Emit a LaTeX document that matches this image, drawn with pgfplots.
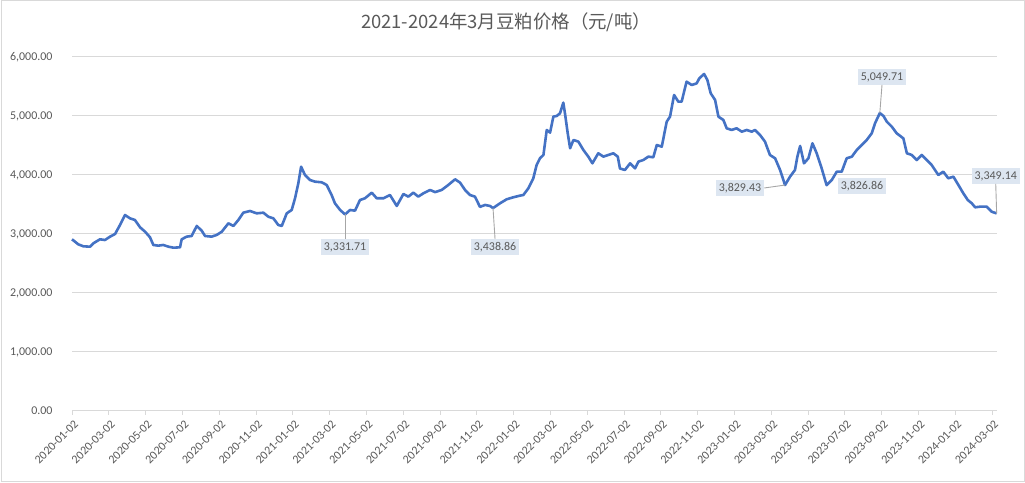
\documentclass[border=0pt]{standalone}
\usepackage{fontspec}
\setmainfont{Carlito}
\newfontfamily\cjk{Noto Sans CJK SC}
\usepackage{pgfplots}
\pgfplotsset{compat=1.18}
\definecolor{lineblue}{HTML}{4472C4}
\definecolor{gridgray}{HTML}{D9D9D9}
\definecolor{txtgray}{HTML}{595959}
\definecolor{boxfill}{HTML}{DDE6F1}
\definecolor{leadgray}{HTML}{A6A6A6}

\begin{document}
\begin{tikzpicture}[x=1bp,y=1bp,
    lab/.style={fill=boxfill, text=txtgray, font=\fontsize{12}{14}\selectfont, inner sep=3bp},
    lead/.style={draw=leadgray, line width=0.9bp}]
\path[use as bounding box] (0,0) rectangle (1025,483);
\draw[gridgray, line width=1bp] (1,1) rectangle (1024,482);
\node[font=\cjk\fontsize{18.5}{22}\selectfont, text=txtgray] at (506,461) {2021-2024年3月豆粕价格（元/吨）};
\begin{axis}[
    at={(72bp,72bp)}, anchor=south west,
    scale only axis, width=925bp, height=354bp,
    xmin=0, xmax=50.27, ymin=0, ymax=6000,
    clip=false,
    axis x line*=bottom, axis y line*=left,
    x axis line style={draw=gridgray, line width=1bp, -},
    y axis line style={draw=none},
    ytick={0,1000,...,6000},
    xtick={0,2,...,50},
    xticklabels={2020-01-02,2020-03-02,2020-05-02,2020-07-02,2020-09-02,2020-11-02,
                 2021-01-02,2021-03-02,2021-05-02,2021-07-02,2021-09-02,2021-11-02,
                 2022-01-02,2022-03-02,2022-05-02,2022-07-02,2022-09-02,2022-11-02,
                 2023-01-02,2023-03-02,2023-05-02,2023-07-02,2023-09-02,2023-11-02,
                 2024-01-02,2024-03-02},
    tick align=outside,
    major tick length=4bp,
    xtick style={draw=gridgray, line width=1bp},
    ytick style={draw=none},
    ymajorgrids,
    grid style={draw=gridgray, line width=1bp},
    scaled y ticks=false,
    yticklabel style={font=\fontsize{12}{14}\selectfont, text=txtgray, xshift=-12bp,
        /pgf/number format/fixed, /pgf/number format/fixed zerofill,
        /pgf/number format/precision=2, /pgf/number format/1000 sep={,},
        /pgf/number format/assume math mode=true},
    xticklabel style={font=\fontsize{12}{14}\selectfont, text=txtgray, rotate=45,
        anchor=north east, yshift=-2bp, inner sep=2bp},
]
\addplot[lineblue, line width=2.6bp, line join=round, mark=none] table[row sep=\\] {
x y \\
0 2910 \\ 0.34 2825 \\ 0.62 2791 \\ 0.98 2785 \\ 1.16 2842 \\ 1.52 2910 \\ 1.79 2898 \\
2.07 2955 \\ 2.34 3000 \\ 2.61 3153 \\ 2.88 3322 \\ 3.15 3266 \\ 3.42 3237 \\ 3.70 3113 \\
3.97 3039 \\ 4.24 2944 \\ 4.42 2814 \\ 4.69 2802 \\ 4.96 2814 \\ 5.24 2785 \\ 5.51 2768 \\
5.87 2774 \\ 5.96 2910 \\ 6.23 2955 \\ 6.50 2966 \\ 6.78 3136 \\ 7.05 3056 \\ 7.23 2966 \\
7.59 2955 \\ 7.86 2983 \\ 8.14 3039 \\ 8.50 3181 \\ 8.77 3136 \\ 9.04 3237 \\ 9.31 3361 \\
9.67 3390 \\ 10.04 3350 \\ 10.40 3361 \\ 10.67 3293 \\ 10.94 3266 \\ 11.21 3153 \\ 11.40 3136 \\
11.67 3350 \\ 11.94 3407 \\ 12.12 3605 \\ 12.30 3859 \\ 12.45 4141 \\ 12.66 4000 \\ 12.93 3915 \\
13.21 3887 \\ 13.57 3876 \\ 13.84 3831 \\ 14.11 3661 \\ 14.29 3520 \\ 14.57 3407 \\ 14.84 3331.71 \\
15.11 3407 \\ 15.38 3395 \\ 15.65 3576 \\ 15.92 3605 \\ 16.29 3700 \\ 16.56 3605 \\ 16.92 3605 \\
17.28 3661 \\ 17.65 3475 \\ 18.01 3678 \\ 18.28 3633 \\ 18.55 3700 \\ 18.82 3633 \\ 19.09 3689 \\
19.46 3746 \\ 19.73 3710 \\ 20.09 3746 \\ 20.45 3831 \\ 20.82 3927 \\ 21.09 3870 \\ 21.36 3746 \\
21.63 3661 \\ 21.90 3633 \\ 22.17 3460 \\ 22.45 3492 \\ 22.72 3475 \\ 22.88 3438.86 \\ 23.26 3520 \\
23.62 3588 \\ 23.98 3622 \\ 24.26 3644 \\ 24.53 3661 \\ 24.80 3774 \\ 25.07 3944 \\ 25.25 4169 \\
25.43 4283 \\ 25.62 4339 \\ 25.80 4763 \\ 25.98 4718 \\ 26.16 4989 \\ 26.34 5000 \\ 26.52 5045 \\
26.70 5226 \\ 26.79 5045 \\ 26.94 4706 \\ 27.07 4453 \\ 27.25 4593 \\ 27.52 4565 \\ 27.79 4424 \\
28.06 4311 \\ 28.28 4198 \\ 28.60 4368 \\ 28.88 4311 \\ 29.15 4339 \\ 29.42 4368 \\ 29.66 4311 \\
29.78 4110 \\ 30.05 4085 \\ 30.33 4198 \\ 30.60 4113 \\ 30.78 4226 \\ 31.05 4254 \\ 31.32 4311 \\
31.59 4300 \\ 31.78 4508 \\ 32.05 4480 \\ 32.32 4904 \\ 32.50 4989 \\ 32.72 5356 \\ 32.95 5243 \\
33.13 5243 \\ 33.40 5582 \\ 33.68 5525 \\ 33.95 5554 \\ 34.09 5638 \\ 34.35 5712 \\ 34.53 5610 \\
34.71 5385 \\ 34.95 5271 \\ 35.13 4989 \\ 35.40 4932 \\ 35.58 4791 \\ 35.85 4763 \\ 36.12 4791 \\
36.40 4734 \\ 36.67 4763 \\ 36.94 4734 \\ 37.12 4763 \\ 37.39 4678 \\ 37.66 4565 \\ 37.93 4339 \\
38.21 4283 \\ 38.48 4085 \\ 38.75 3829.43 \\ 39.02 3971 \\ 39.29 4085 \\ 39.42 4311 \\ 39.57 4492 \\
39.78 4198 \\ 40.02 4283 \\ 40.24 4537 \\ 40.47 4368 \\ 40.74 4113 \\ 41.01 3826.86 \\ 41.29 3915 \\
41.56 4056 \\ 41.83 4056 \\ 42.10 4283 \\ 42.38 4311 \\ 42.65 4424 \\ 42.92 4508 \\ 43.19 4593 \\
43.46 4706 \\ 43.64 4876 \\ 43.90 5049.71 \\ 44.10 5000 \\ 44.28 4904 \\ 44.55 4819 \\ 44.82 4706 \\
45.18 4621 \\ 45.37 4368 \\ 45.64 4339 \\ 45.91 4254 \\ 46.18 4339 \\ 46.45 4254 \\ 46.72 4169 \\
47.08 4000 \\ 47.35 4056 \\ 47.62 3944 \\ 47.90 3971 \\ 48.17 3831 \\ 48.44 3689 \\ 48.68 3576 \\
48.90 3520 \\ 49.08 3452 \\ 49.35 3463 \\ 49.71 3463 \\ 49.98 3378 \\ 50.25 3349.14 \\
};
% data labels
\node[lab] (a1) at (axis cs:14.84,2780) {3,331.71};
\draw[lead] (axis cs:14.84,3331.71) -- (a1.north);
\node[lab] (a2) at (axis cs:22.99,2780) {3,438.86};
\draw[lead] (axis cs:22.88,3438.86) -- (a2.north);
\node[lab] (a3) at (axis cs:36.3,3780) {3,829.43};
\draw[lead] (a3.east) -- (axis cs:38.75,3829.43);
\node[lab] (a4) at (axis cs:42.93,3814) {3,826.86};
\node[lab] (a5) at (axis cs:44.02,5661) {5,049.71};
\draw[lead] (a5.south) -- (axis cs:43.9,5049.71);
\node[lab] (a6) at (axis cs:50.2,3983) {3,349.14};
\draw[lead] (a6.south) -- (axis cs:50.25,3349.14);
\end{axis}
\end{tikzpicture}
\end{document}
